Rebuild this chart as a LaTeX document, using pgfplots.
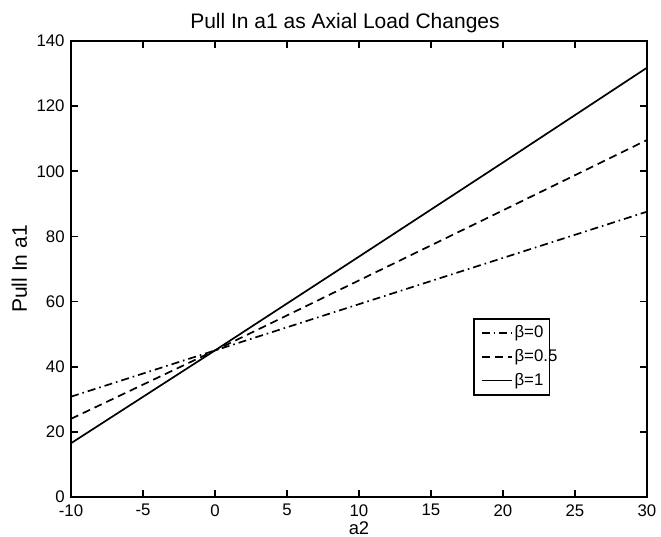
\documentclass[border=0pt]{standalone}
\usepackage{pgfplots}
\pgfplotsset{compat=1.18}
\usepackage{fontspec}
\setmainfont{Liberation Sans}
\newcommand\ff{\fontsize{8.4pt}{10pt}\selectfont}
\newcommand\fb{\fontsize{10.5pt}{12pt}\selectfont}
\begin{document}
\ff
\begin{tikzpicture}
\path[use as bounding box] (-35.5pt,-20pt) rectangle (295pt,248.5pt);
\begin{axis}[
  at={(0,0)}, anchor=south west,
  scale only axis, width=288pt, height=228pt,
  xmin=-10, xmax=30, ymin=0, ymax=140,
  xtick={-10,-5,...,30}, ytick={0,20,...,140},
  tick align=inside, major tick length=3.3pt,
  axis line style={line width=0.8pt}, every tick/.style={line width=0.8pt, black},
  /pgf/number format/assume math mode=true,
  ticklabel style={font=\ff},
  xticklabel style={inner sep=0pt, yshift=-3.5pt},
  yticklabel style={inner sep=0pt, xshift=-3pt},
  title={Pull In a1 as Axial Load Changes},
  title style={font=\fb, at={(axis description cs:0.5,1)}, anchor=base, yshift=0.5pt, xshift=-7pt},
  xlabel={a2}, ylabel={Pull In a1},
  xlabel style={font=\fontsize{9.2pt}{11pt}\selectfont, at={(axis description cs:0.5,0)}, anchor=base, yshift=-19pt},
  ylabel style={font=\fb, at={(axis description cs:0,0.5)}, anchor=base, yshift=22pt},
  legend style={at={(0.698,0.3925)}, anchor=north west, draw=black, line width=0.8pt,
    font=\ff, row sep=2.5pt, inner xsep=3.5pt, inner ysep=2.5pt,
    nodes={inner sep=1pt}},
  legend cell align=left,
  legend image code/.code={\draw[#1] (0pt,0pt) -- (15pt,0pt);},
]
\addplot[black, line width=0.85pt, dash pattern=on 4pt off 2pt on 0.8pt off 2pt] coordinates {(-10,30.8) (0,45) (10,59.2) (20,73.4) (30,87.6)};
\addlegendentry{\makebox[13pt][l]{β=0}}
\addplot[black, line width=0.85pt, dash pattern=on 4pt off 2.5pt] coordinates {(-10,24) (0,45) (10,66.5) (20,88) (30,109.6)};
\addlegendentry{\makebox[13pt][l]{β=0.5}}
\addplot[black, line width=0.85pt] coordinates {(-10,16.5) (0,45) (10,73.8) (20,102.7) (30,131.8)};
\addlegendentry{\makebox[13pt][l]{β=1}}
\end{axis}
\end{tikzpicture}
\end{document}
